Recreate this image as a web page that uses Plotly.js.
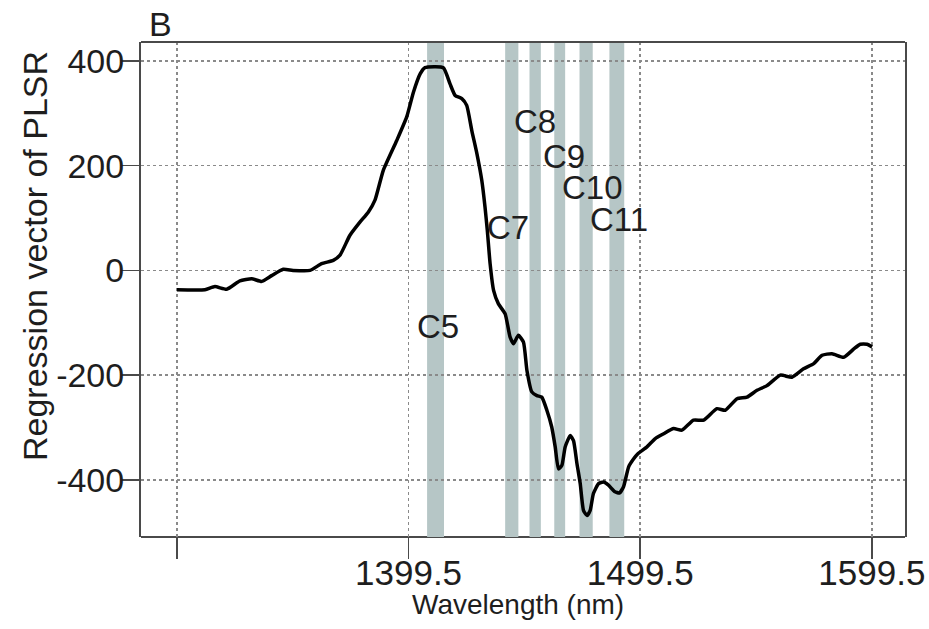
<!DOCTYPE html>
<html>
<head>
<meta charset="utf-8">
<script src="https://cdn.plot.ly/plotly-3.0.1.min.js"></script>
<style>html,body{margin:0;padding:0;background:#fff;}#chart{width:929px;height:629px;}</style>
</head>
<body>
<div id="chart"></div>
<script>
// Wavelength (nm)
var wavelength = [1299.5, 1311.6, 1315.9, 1321, 1326.7, 1331.8, 1336.1, 1340.4, 1345.4, 1349.6, 1357, 1362, 1367, 1369.9, 1374.2, 1378.5, 1382.1, 1385, 1388.6, 1394.4, 1398.7, 1401.6, 1404.5, 1406.6, 1414.5, 1417.4, 1419.6, 1422.5, 1424.6, 1426.8, 1429, 1431.1, 1432.5, 1433.5, 1434.7, 1436.2, 1438.3, 1441.2, 1443.3, 1444.8, 1446.9, 1449.1, 1450.6, 1452.7, 1454.9, 1457, 1459.2, 1461.3, 1462.8, 1464.2, 1465.7, 1467.1, 1469.3, 1470.7, 1472.2, 1473.6, 1475, 1476.5, 1477.9, 1479.3, 1481.5, 1483.7, 1485.8, 1488.4, 1490.5, 1492.3, 1494.5, 1496.6, 1498.5, 1502.4, 1506, 1509.6, 1513.9, 1517.5, 1522.5, 1526.9, 1532.6, 1536.2, 1541.3, 1545.6, 1549.9, 1554.2, 1560, 1565, 1570, 1574.4, 1578, 1582.3, 1587.3, 1591.7, 1594.5, 1597.4, 1599.6];
// Regression vector of PLSR
var regression = [-37, -37, -31, -36, -20, -16, -21, -10, 2, 0, 0, 13, 19, 29, 67, 92, 111, 134, 191, 248, 293, 340, 375, 387, 387, 356, 334, 328, 315, 267, 223, 172, 121, 76, 13, -38, -64, -83, -127, -140, -124, -137, -191, -232, -239, -242, -267, -299, -337, -379, -372, -337, -315, -325, -369, -407, -458, -468, -458, -426, -407, -404, -410, -422, -425, -413, -375, -360, -350, -337, -321, -312, -302, -305, -286, -286, -264, -267, -245, -242, -229, -220, -200, -204, -188, -178, -162, -159, -166, -150, -141, -141, -146];

// Selected wavelength bands
var bandStart = [1407.5, 1441.2, 1451.7, 1462.4, 1473.3, 1486.2];
var bandEnd   = [1414.8, 1446.9, 1456.6, 1467.1, 1479.0, 1492.6];

// Band labels
var labelText = ['C5', 'C7', 'C8', 'C9', 'C10', 'C11'];
var labelX = [1412, 1442.3, 1454.1, 1466.7, 1478.8, 1490.4];
var labelY = [-107, 82, 284, 218, 158, 97];

// Axis ticks
var xTickVals = [1299.5, 1399.5, 1499.5, 1599.5];
var xTickText = ['', '1399.5', '1499.5', '1599.5'];
var yTickVals = [-400, -200, 0, 200, 400];
var yTickText = ['-400', '-200', '0', '200', '400'];

var FONT = 'Liberation Sans, Arial, Helvetica, sans-serif';
var bandColor = 'rgb(182,198,198)';
var frameColor = '#4a4a4a';

var shapes = [];
// bottom frame line (drawn below bands, so bands hide it)
shapes.push({type: 'line', xref: 'paper', yref: 'paper', x0: 0, x1: 1, y0: 0, y1: 0, layer: 'below',
  line: {color: frameColor, width: 2}});
for (var i = 0; i < bandStart.length; i++) {
  shapes.push({type: 'rect', xref: 'x', yref: 'paper', x0: bandStart[i], x1: bandEnd[i], y0: 0, y1: 1,
    fillcolor: bandColor, line: {width: 0}, layer: 'below'});
}
// top frame line
shapes.push({type: 'line', xref: 'paper', yref: 'paper', x0: 0, x1: 1, y0: 1, y1: 1, layer: 'above',
  line: {color: frameColor, width: 2}});

var annotations = [];
for (var j = 0; j < labelText.length; j++) {
  annotations.push({x: labelX[j], y: labelY[j], xref: 'x', yref: 'y', text: labelText[j], showarrow: false,
    xanchor: 'center', yanchor: 'middle', font: {family: FONT, size: 33, color: '#1e1e1e'}});
}
annotations.push({x: -0.1387, y: 0.5677, xref: 'paper', yref: 'paper', text: 'Regression vector of PLSR',
  textangle: -90, showarrow: false, xanchor: 'center', yanchor: 'middle',
  font: {family: FONT, size: 34, color: '#1e1e1e'}});
annotations.push({x: 0.4935, y: -0.137, xref: 'paper', yref: 'paper', text: 'Wavelength (nm)',
  showarrow: false, xanchor: 'center', yanchor: 'middle',
  font: {family: FONT, size: 28, color: '#1e1e1e'}});
annotations.push({x: 0.0079, y: 1.036, xref: 'paper', yref: 'paper', text: 'B',
  showarrow: false, xanchor: 'left', yanchor: 'middle',
  font: {family: FONT, size: 34, color: '#1e1e1e'}});

var trace = {
  x: wavelength, y: regression, type: 'scatter', mode: 'lines',
  line: {color: '#000', width: 3.5, shape: 'spline', smoothing: 0.5},
  hoverinfo: 'skip'
};

var layout = {
  width: 929, height: 629,
  margin: {l: 141, r: 24, t: 42, b: 92, pad: 0},
  paper_bgcolor: '#fff', plot_bgcolor: '#fff',
  showlegend: false,
  xaxis: {
    range: [1284, 1613.8], tickmode: 'array', tickvals: xTickVals, ticktext: xTickText,
    ticks: 'outside', ticklen: 21, tickwidth: 1.5, tickcolor: frameColor,
    ticklabelstandoff: -16,
    showline: false, zeroline: false,
    showgrid: true, gridcolor: '#8a8a8a', gridwidth: 1.5, griddash: 'dot',
    tickfont: {family: FONT, size: 35, color: '#1e1e1e'}
  },
  yaxis: {
    range: [-509, 436], tickmode: 'array', tickvals: yTickVals, ticktext: yTickText,
    ticks: 'outside', ticklen: 17, tickwidth: 1.5, tickcolor: frameColor,
    ticklabelstandoff: -9,
    showline: true, mirror: true, linecolor: frameColor, linewidth: 2, zeroline: false,
    showgrid: true, gridcolor: '#8a8a8a', gridwidth: 1.5, griddash: 'dot',
    tickfont: {family: FONT, size: 34, color: '#1e1e1e'}
  },
  shapes: shapes,
  annotations: annotations
};

Plotly.newPlot('chart', [trace], layout, {displayModeBar: false, staticPlot: true});
</script>
</body>
</html>
